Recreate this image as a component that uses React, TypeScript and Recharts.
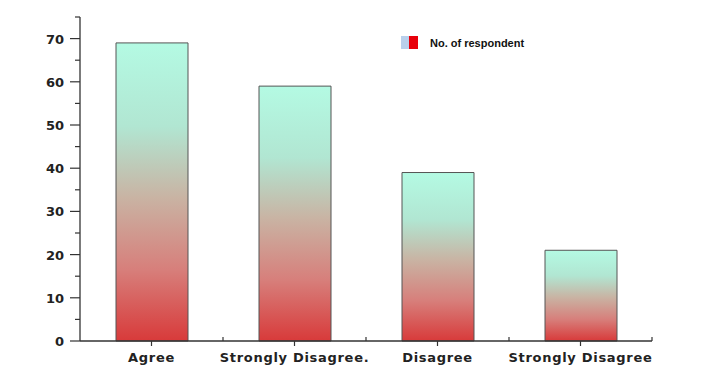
import React from "react";
import { Bar, BarChart, Legend, XAxis, YAxis } from "recharts";

// 受访者态度分布柱状图

const categories = ["Agree", "Strongly Disagree.", "Disagree", "Strongly Disagree"];
const respondents = [69, 59, 39, 21];
const yTicks = [0, 5, 10, 15, 20, 25, 30, 35, 40, 45, 50, 55, 60, 65, 70, 75];

const data = categories.map((name, i) => ({ name, value: respondents[i] }));

const W = 706;
const H = 373;
const MARGIN = { top: 17, right: 54, bottom: 0, left: 0 };
const Y_AXIS_W = 80;
const AXIS_COLOR = "#333";
const LABEL_FONT = "'DejaVu Sans', sans-serif";

// 半个分类带宽，用于在分类边界处画小刻度
const halfBand = (W - MARGIN.left - MARGIN.right - Y_AXIS_W) / categories.length / 2;

function YTick({ x, y, payload }: any) {
  const major = payload.value % 10 === 0;
  return (
    <g>
      <line x1={x - (major ? 10 : 5)} x2={x} y1={y} y2={y} stroke={AXIS_COLOR} strokeWidth={1.2} />
      {major && (
        <text
          x={x - 16}
          y={y + 5}
          textAnchor="end"
          fontFamily={LABEL_FONT}
          fontWeight="bold"
          fontSize={13}
          fill="#222"
        >
          {payload.value}
        </text>
      )}
    </g>
  );
}

function XTick({ x, y, payload }: any) {
  return (
    <g>
      <line x1={x} x2={x} y1={y} y2={y + 5} stroke={AXIS_COLOR} strokeWidth={1.2} />
      <line x1={x + halfBand} x2={x + halfBand} y1={y - 4} y2={y} stroke={AXIS_COLOR} strokeWidth={1.2} />
      <text
        x={x}
        y={y + 21}
        textAnchor="middle"
        fontFamily={LABEL_FONT}
        fontWeight="bold"
        fontSize={13}
        letterSpacing={0.7}
        fill="#222"
      >
        {payload.value}
      </text>
    </g>
  );
}

function LegendBox() {
  return (
    <div style={{ display: "flex", alignItems: "center", fontFamily: "'Liberation Sans', Arial, sans-serif" }}>
      <svg width={17} height={13}>
        <rect x={0} y={0} width={8} height={13} fill="#b9d0ec" />
        <rect x={8} y={0} width={9} height={13} fill="#e8000b" />
      </svg>
      <span style={{ marginLeft: 12, fontSize: 11, fontWeight: "bold", color: "#111", lineHeight: "13px", paddingTop: 3 }}>
        No. of respondent
      </span>
    </div>
  );
}

export default function App() {
  return (
    <div style={{ position: "fixed", left: 0, top: 0, width: W, height: H, background: "#fff" }}>
      <BarChart width={W} height={H} data={data} margin={MARGIN}>
        <defs>
          <linearGradient id="barFill" x1="0" y1="0" x2="0" y2="1">
            <stop offset="0%" stopColor="#b4fae3" />
            <stop offset="28%" stopColor="#b1e6d2" />
            <stop offset="52%" stopColor="#c9b3a3" />
            <stop offset="76%" stopColor="#d77f7b" />
            <stop offset="100%" stopColor="#d83a3a" />
          </linearGradient>
        </defs>
        <XAxis
          dataKey="name"
          interval={0}
          height={32}
          tickSize={0}
          tickMargin={0}
          tick={<XTick />}
          axisLine={{ stroke: AXIS_COLOR, strokeWidth: 1.3 }}
        />
        <YAxis
          width={Y_AXIS_W}
          domain={[0, 75]}
          ticks={yTicks}
          interval={0}
          tickSize={0}
          tickMargin={0}
          tick={<YTick />}
          axisLine={{ stroke: AXIS_COLOR, strokeWidth: 1.3 }}
        />
        <Legend
          layout="horizontal"
          verticalAlign="middle"
          content={<LegendBox />}
          wrapperStyle={{ position: "absolute", left: 401, top: 34, width: "auto" }}
        />
        <Bar
          dataKey="value"
          name="No. of respondent"
          barSize={72}
          fill="url(#barFill)"
          stroke="#555"
          strokeWidth={1}
          isAnimationActive={false}
        />
      </BarChart>
    </div>
  );
}
